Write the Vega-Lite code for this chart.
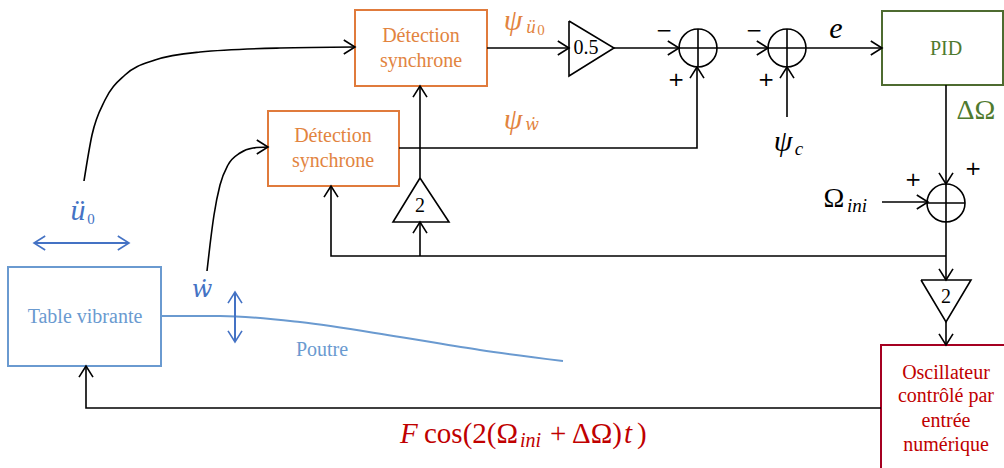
{
 "$schema": "https://vega.github.io/schema/vega-lite/v6.json",
 "width": 1004, "height": 468, "padding": 0, "autosize": {"type": "none"},
 "background": "white",
 "config": {"view": {"stroke": null}},
 "datasets": {
  "boxes": [
   {"name": "ds1", "x": 355, "x2": 487, "y": 10, "y2": 86},
   {"name": "ds2", "x": 268, "x2": 399, "y": 111, "y2": 186},
   {"name": "pid", "x": 882, "x2": 1003, "y": 11, "y2": 85},
   {"name": "table", "x": 8, "x2": 161, "y": 267, "y2": 366},
   {"name": "osc", "x": 881, "x2": 1012, "y": 345, "y2": 478}
  ],
  "paths": [
   {"id": "L1", "o": 0, "x": 487, "y": 48}, {"id": "L1", "o": 1, "x": 569, "y": 48},
   {"id": "L2", "o": 0, "x": 614, "y": 48}, {"id": "L2", "o": 1, "x": 679, "y": 48},
   {"id": "L3", "o": 0, "x": 716, "y": 48}, {"id": "L3", "o": 1, "x": 768, "y": 48},
   {"id": "L4", "o": 0, "x": 806, "y": 48}, {"id": "L4", "o": 1, "x": 882, "y": 48},
   {"id": "L5", "o": 0, "x": 399, "y": 148}, {"id": "L5", "o": 1, "x": 697, "y": 148}, {"id": "L5", "o": 2, "x": 697, "y": 67},
   {"id": "L6", "o": 0, "x": 787, "y": 117}, {"id": "L6", "o": 1, "x": 787, "y": 67},
   {"id": "L7", "o": 0, "x": 946, "y": 85}, {"id": "L7", "o": 1, "x": 946, "y": 184},
   {"id": "L8", "o": 0, "x": 882, "y": 202}, {"id": "L8", "o": 1, "x": 928, "y": 202},
   {"id": "L9", "o": 0, "x": 946, "y": 221}, {"id": "L9", "o": 1, "x": 946, "y": 280},
   {"id": "L10", "o": 0, "x": 946, "y": 256}, {"id": "L10", "o": 1, "x": 331, "y": 256}, {"id": "L10", "o": 2, "x": 331, "y": 186},
   {"id": "L11", "o": 0, "x": 420, "y": 256}, {"id": "L11", "o": 1, "x": 420, "y": 222},
   {"id": "L12", "o": 0, "x": 420, "y": 178}, {"id": "L12", "o": 1, "x": 420, "y": 86},
   {"id": "L13", "o": 0, "x": 946, "y": 322}, {"id": "L13", "o": 1, "x": 946, "y": 345},
   {"id": "L14", "o": 0, "x": 881, "y": 408}, {"id": "L14", "o": 1, "x": 86, "y": 408}, {"id": "L14", "o": 2, "x": 86, "y": 366},
   {"id": "T1", "o": 0, "x": 569, "y": 21}, {"id": "T1", "o": 1, "x": 614, "y": 48}, {"id": "T1", "o": 2, "x": 569, "y": 76}, {"id": "T1", "o": 3, "x": 569, "y": 21},
   {"id": "T2", "o": 0, "x": 420, "y": 178}, {"id": "T2", "o": 1, "x": 449, "y": 222}, {"id": "T2", "o": 2, "x": 393, "y": 222}, {"id": "T2", "o": 3, "x": 420, "y": 178},
   {"id": "T3", "o": 0, "x": 921, "y": 280}, {"id": "T3", "o": 1, "x": 971, "y": 280}, {"id": "T3", "o": 2, "x": 946, "y": 322}, {"id": "T3", "o": 3, "x": 921, "y": 280}
  ],
  "curves": [
   {"id": "C1", "o": 0, "x": 84, "y": 181}, {"id": "C1", "o": 1, "x": 92, "y": 135}, {"id": "C1", "o": 2, "x": 105, "y": 100}, {"id": "C1", "o": 3, "x": 125, "y": 75}, {"id": "C1", "o": 4, "x": 155, "y": 60}, {"id": "C1", "o": 5, "x": 200, "y": 52}, {"id": "C1", "o": 6, "x": 280, "y": 48}, {"id": "C1", "o": 7, "x": 355, "y": 47},
   {"id": "C2", "o": 0, "x": 207, "y": 271}, {"id": "C2", "o": 1, "x": 210, "y": 245}, {"id": "C2", "o": 2, "x": 214, "y": 215}, {"id": "C2", "o": 3, "x": 220, "y": 185}, {"id": "C2", "o": 4, "x": 228, "y": 165}, {"id": "C2", "o": 5, "x": 240, "y": 153}, {"id": "C2", "o": 6, "x": 253, "y": 148}, {"id": "C2", "o": 7, "x": 268, "y": 147}
  ],
  "beam": [
   {"o": 0, "x": 161, "y": 316}, {"o": 1, "x": 220, "y": 316}, {"o": 2, "x": 300, "y": 322}, {"o": 3, "x": 400, "y": 337}, {"o": 4, "x": 480, "y": 350}, {"o": 5, "x": 563, "y": 361}
  ],
  "bluepaths": [
   {"id": "B1", "o": 0, "x": 34, "y": 243}, {"id": "B1", "o": 1, "x": 129, "y": 243},
   {"id": "B2", "o": 0, "x": 235, "y": 292}, {"id": "B2", "o": 1, "x": 235, "y": 342}
  ],
  "sums": [
   {"x": 698, "y": 48}, {"x": 787, "y": 48}, {"x": 946, "y": 203}
  ],
  "arrows": [
   {"x": 355, "y": 47, "dir": "r", "grp": "k"},
   {"x": 268, "y": 147, "dir": "r", "grp": "k"},
   {"x": 569, "y": 48, "dir": "r", "grp": "k"},
   {"x": 679, "y": 48, "dir": "r", "grp": "k"},
   {"x": 768, "y": 48, "dir": "r", "grp": "k"},
   {"x": 882, "y": 48, "dir": "r", "grp": "k"},
   {"x": 928, "y": 202, "dir": "r", "grp": "k"},
   {"x": 697, "y": 67, "dir": "u", "grp": "k"},
   {"x": 787, "y": 67, "dir": "u", "grp": "k"},
   {"x": 420, "y": 86, "dir": "u", "grp": "k"},
   {"x": 331, "y": 186, "dir": "u", "grp": "k"},
   {"x": 420, "y": 222, "dir": "u", "grp": "k"},
   {"x": 86, "y": 366, "dir": "u", "grp": "k"},
   {"x": 946, "y": 184, "dir": "d", "grp": "k"},
   {"x": 946, "y": 280, "dir": "d", "grp": "k"},
   {"x": 946, "y": 345, "dir": "d", "grp": "k"},
   {"x": 34, "y": 243, "dir": "l", "grp": "b"},
   {"x": 129, "y": 243, "dir": "r", "grp": "b"},
   {"x": 235, "y": 292, "dir": "u", "grp": "b"},
   {"x": 235, "y": 342, "dir": "d", "grp": "b"}
  ],
  "texts": [
   {"cls": "lab", "x": 421, "y": 36, "t": "Détection", "grp": "ds"},
   {"cls": "lab", "x": 421, "y": 61, "t": "synchrone", "grp": "ds"},
   {"cls": "lab", "x": 333, "y": 136, "t": "Détection", "grp": "ds"},
   {"cls": "lab", "x": 333, "y": 161, "t": "synchrone", "grp": "ds"},
   {"cls": "lab", "x": 946, "y": 49, "t": "PID", "grp": "pid"},
   {"cls": "lab", "x": 85, "y": 317, "t": "Table vibrante", "grp": "table"},
   {"cls": "lab", "x": 322, "y": 350, "t": "Poutre", "grp": "table"},
   {"cls": "lab", "x": 946, "y": 373, "t": "Oscillateur", "grp": "osc"},
   {"cls": "lab", "x": 946, "y": 396, "t": "contrôlé par", "grp": "osc"},
   {"cls": "lab", "x": 946, "y": 421, "t": "entrée", "grp": "osc"},
   {"cls": "lab", "x": 946, "y": 445, "t": "numérique", "grp": "osc"},
   {"cls": "lab", "x": 586, "y": 48, "t": "0.5", "grp": "k"},
   {"cls": "lab", "x": 420, "y": 206, "t": "2", "grp": "k"},
   {"cls": "lab", "x": 946, "y": 297, "t": "2", "grp": "k"},
   {"cls": "sym", "x": 513, "y": 21, "t": "ψ", "grp": "ds"},
   {"cls": "sym", "x": 513, "y": 120, "t": "ψ", "grp": "ds"},
   {"cls": "sym", "x": 836, "y": 29, "t": "e", "grp": "k"},
   {"cls": "sym", "x": 783, "y": 142, "t": "ψ", "grp": "k"},
   {"cls": "sym", "x": 78, "y": 211, "t": "ü", "grp": "b"},
   {"cls": "symW", "x": 202, "y": 290, "t": "ẇ", "grp": "b"},
   {"cls": "symUp", "x": 976, "y": 111, "t": "ΔΩ", "grp": "pid"},
   {"cls": "symUp", "x": 834, "y": 199, "t": "Ω", "grp": "k"},
   {"cls": "sub", "x": 531, "y": 27, "t": "ü", "grp": "ds"},
   {"cls": "subW", "x": 532, "y": 125, "t": "ẇ", "grp": "ds"},
   {"cls": "sub", "x": 799, "y": 149, "t": "c", "grp": "k"},
   {"cls": "sub", "x": 857, "y": 206, "t": "ini", "grp": "k"},
   {"cls": "subUp", "x": 541, "y": 30, "t": "0", "grp": "ds"},
   {"cls": "subUp", "x": 91, "y": 219, "t": "0", "grp": "b"},
   {"cls": "sign", "x": 664, "y": 31, "t": "−", "grp": "k"},
   {"cls": "sign", "x": 676, "y": 80, "t": "+", "grp": "k"},
   {"cls": "sign", "x": 754, "y": 31, "t": "−", "grp": "k"},
   {"cls": "sign", "x": 766, "y": 80, "t": "+", "grp": "k"},
   {"cls": "sign", "x": 913, "y": 180, "t": "+", "grp": "k"},
   {"cls": "sign", "x": 973, "y": 169, "t": "+", "grp": "k"}
  ],
  "formula": [
   {"cls": "fI", "x": 400, "y": 434, "t": "F"},
   {"cls": "fU", "x": 424, "y": 434, "t": "cos(2(Ω"},
   {"cls": "fS", "x": 520, "y": 441, "t": "ini"},
   {"cls": "fU", "x": 550, "y": 434, "t": "+ ΔΩ)"},
   {"cls": "fI", "x": 624, "y": 434, "t": "t"},
   {"cls": "fU", "x": 637, "y": 434, "t": ")"}
  ]
 },
 "encoding": {
  "x": {"field": "x", "type": "quantitative", "scale": {"domain": [0, 1004], "nice": false, "zero": false}, "axis": null},
  "y": {"field": "y", "type": "quantitative", "scale": {"domain": [0, 468], "nice": false, "zero": false, "reverse": true}, "axis": null}
 },
 "layer": [
  {"data": {"name": "boxes"}, "mark": {"type": "rect", "fill": "white", "strokeWidth": 2, "clip": true},
   "encoding": {"x2": {"field": "x2"}, "y2": {"field": "y2"},
    "stroke": {"field": "name", "type": "nominal", "scale": {"domain": ["ds1", "ds2", "pid", "table", "osc"], "range": ["#E07B3C", "#E07B3C", "#4E6B30", "#6A9AD0", "#A50021"]}, "legend": null}}},
  {"data": {"name": "paths"}, "mark": {"type": "line", "color": "black", "strokeWidth": 1.6},
   "encoding": {"detail": {"field": "id", "type": "nominal"}, "order": {"field": "o", "type": "quantitative"}}},
  {"data": {"name": "curves"}, "mark": {"type": "line", "color": "black", "strokeWidth": 1.6, "interpolate": "monotone"},
   "encoding": {"detail": {"field": "id", "type": "nominal"}, "order": {"field": "o", "type": "quantitative"}}},
  {"data": {"name": "beam"}, "mark": {"type": "line", "color": "#6A9AD0", "strokeWidth": 2, "interpolate": "monotone"},
   "encoding": {"order": {"field": "o", "type": "quantitative"}}},
  {"data": {"name": "bluepaths"}, "mark": {"type": "line", "color": "#4472C4", "strokeWidth": 2},
   "encoding": {"detail": {"field": "id", "type": "nominal"}, "order": {"field": "o", "type": "quantitative"}}},
  {"data": {"name": "sums"}, "mark": {"type": "point", "shape": "circle", "size": 1444, "filled": false, "stroke": "black", "strokeWidth": 1.6, "opacity": 1}},
  {"data": {"name": "sums"}, "mark": {"type": "point", "shape": "M-1,0L1,0M0,-1L0,1", "size": 1444, "filled": false, "stroke": "black", "strokeWidth": 1.6, "opacity": 1}},
  {"data": {"name": "arrows"}, "transform": [{"filter": "datum.dir === 'r'"}],
   "mark": {"type": "point", "shape": "M-1.6,-1L0,0L-1.6,1", "size": 196, "filled": false, "strokeWidth": 1.6, "opacity": 1},
   "encoding": {"color": {"field": "grp", "type": "nominal", "scale": {"domain": ["ds", "pid", "table", "osc", "k", "b", "f"], "range": ["#E2843F", "#4F7A2E", "#6A9AD0", "#C00000", "black", "#4472C4", "#C00000"]}, "legend": null}}},
  {"data": {"name": "arrows"}, "transform": [{"filter": "datum.dir === 'l'"}],
   "mark": {"type": "point", "shape": "M1.6,-1L0,0L1.6,1", "size": 196, "filled": false, "strokeWidth": 1.6, "opacity": 1},
   "encoding": {"color": {"field": "grp", "type": "nominal", "legend": null}}},
  {"data": {"name": "arrows"}, "transform": [{"filter": "datum.dir === 'u'"}],
   "mark": {"type": "point", "shape": "M-1,1.6L0,0L1,1.6", "size": 196, "filled": false, "strokeWidth": 1.6, "opacity": 1},
   "encoding": {"color": {"field": "grp", "type": "nominal", "legend": null}}},
  {"data": {"name": "arrows"}, "transform": [{"filter": "datum.dir === 'd'"}],
   "mark": {"type": "point", "shape": "M-1,-1.6L0,0L1,-1.6", "size": 196, "filled": false, "strokeWidth": 1.6, "opacity": 1},
   "encoding": {"color": {"field": "grp", "type": "nominal", "legend": null}}},
  {"data": {"name": "texts"}, "transform": [{"filter": "datum.cls === 'lab'"}],
   "mark": {"type": "text", "font": "Liberation Serif", "fontSize": 20, "align": "center", "baseline": "middle"},
   "encoding": {"text": {"field": "t"}, "color": {"field": "grp", "type": "nominal", "legend": null}}},
  {"data": {"name": "texts"}, "transform": [{"filter": "datum.cls === 'sym'"}],
   "mark": {"type": "text", "font": "Liberation Serif", "fontStyle": "italic", "fontSize": 30, "align": "center", "baseline": "middle"},
   "encoding": {"text": {"field": "t"}, "color": {"field": "grp", "type": "nominal", "legend": null}}},
  {"data": {"name": "texts"}, "transform": [{"filter": "datum.cls === 'symW'"}],
   "mark": {"type": "text", "font": "DejaVu Serif", "fontStyle": "italic", "fontSize": 24, "align": "center", "baseline": "middle"},
   "encoding": {"text": {"field": "t"}, "color": {"field": "grp", "type": "nominal", "legend": null}}},
  {"data": {"name": "texts"}, "transform": [{"filter": "datum.cls === 'symUp'"}],
   "mark": {"type": "text", "font": "Liberation Serif", "fontSize": 28, "align": "center", "baseline": "middle"},
   "encoding": {"text": {"field": "t"}, "color": {"field": "grp", "type": "nominal", "legend": null}}},
  {"data": {"name": "texts"}, "transform": [{"filter": "datum.cls === 'sub'"}],
   "mark": {"type": "text", "font": "Liberation Serif", "fontStyle": "italic", "fontSize": 19, "align": "center", "baseline": "middle"},
   "encoding": {"text": {"field": "t"}, "color": {"field": "grp", "type": "nominal", "legend": null}}},
  {"data": {"name": "texts"}, "transform": [{"filter": "datum.cls === 'subW'"}],
   "mark": {"type": "text", "font": "DejaVu Serif", "fontStyle": "italic", "fontSize": 16, "align": "center", "baseline": "middle"},
   "encoding": {"text": {"field": "t"}, "color": {"field": "grp", "type": "nominal", "legend": null}}},
  {"data": {"name": "texts"}, "transform": [{"filter": "datum.cls === 'subUp'"}],
   "mark": {"type": "text", "font": "Liberation Serif", "fontSize": 15, "align": "center", "baseline": "middle"},
   "encoding": {"text": {"field": "t"}, "color": {"field": "grp", "type": "nominal", "legend": null}}},
  {"data": {"name": "texts"}, "transform": [{"filter": "datum.cls === 'sign'"}],
   "mark": {"type": "text", "font": "DejaVu Sans", "fontSize": 20, "align": "center", "baseline": "middle"},
   "encoding": {"text": {"field": "t"}, "color": {"field": "grp", "type": "nominal", "legend": null}}},
  {"data": {"name": "formula"}, "transform": [{"filter": "datum.cls === 'fU'"}],
   "mark": {"type": "text", "font": "Liberation Serif", "fontSize": 29, "align": "left", "baseline": "middle", "color": "#C00000"},
   "encoding": {"text": {"field": "t"}}},
  {"data": {"name": "formula"}, "transform": [{"filter": "datum.cls === 'fI'"}],
   "mark": {"type": "text", "font": "Liberation Serif", "fontStyle": "italic", "fontSize": 29, "align": "left", "baseline": "middle", "color": "#C00000"},
   "encoding": {"text": {"field": "t"}}},
  {"data": {"name": "formula"}, "transform": [{"filter": "datum.cls === 'fS'"}],
   "mark": {"type": "text", "font": "Liberation Serif", "fontStyle": "italic", "fontSize": 20, "align": "left", "baseline": "middle", "color": "#C00000"},
   "encoding": {"text": {"field": "t"}}}
 ]
}
